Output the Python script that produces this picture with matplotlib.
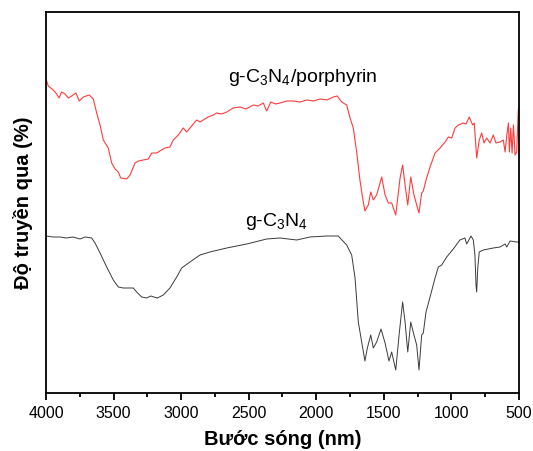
import numpy as np
import matplotlib
matplotlib.use("Agg")
import matplotlib.pyplot as plt

plt.rcParams['font.family'] = ['Liberation Sans', 'DejaVu Sans']
plt.rcParams['mathtext.fontset'] = 'custom'
plt.rcParams['mathtext.rm'] = 'Liberation Sans'
plt.rcParams['mathtext.default'] = 'regular'

# g-C3N4/porphyrin (red), wavenumber vs relative transmittance
wn_porph = [4000, 3983, 3946, 3921, 3904, 3884, 3859, 3835, 3810, 3778, 3754, 3724,
            3680, 3650, 3625, 3600, 3576, 3539, 3514, 3489, 3465, 3447, 3403, 3378,
            3341, 3317, 3280, 3243, 3218, 3181, 3157, 3120, 3083, 3058, 3021, 2984,
            2959, 2922, 2885, 2860, 2800, 2762, 2737, 2700, 2663, 2614, 2564, 2520,
            2466, 2430, 2392, 2367, 2337, 2300, 2268, 2220, 2170, 2120, 2071, 2020,
            1972, 1920, 1874, 1844, 1824, 1812, 1775, 1750, 1726, 1701, 1677, 1657,
            1640, 1615, 1597, 1578, 1553, 1516, 1491, 1467, 1442, 1412, 1380, 1361,
            1343, 1323, 1301, 1277, 1257, 1240, 1220, 1208, 1188, 1158, 1121, 1084,
            1047, 1023, 998, 973, 949, 912, 892, 868, 843, 831, 813, 794, 776, 759,
            739, 714, 690, 670, 640, 616, 603, 590, 578, 571, 561, 551, 541, 529,
            517, 505, 500]
t_porph = [314, 307, 303, 299, 295, 301, 299, 295, 297, 300, 292, 296,
           298, 294, 280, 268, 253, 245, 230, 224, 221, 215, 214, 218,
           230, 232, 233, 234, 240, 240, 242, 245, 246, 253, 258, 265,
           261, 267, 273, 271, 276, 278, 280, 279, 281, 285, 286, 284,
           288, 287, 290, 282, 291, 289, 290, 292, 292, 291, 293, 292,
           294, 293, 296, 297, 293, 291, 288, 275, 265, 241, 213, 195,
           182, 188, 201, 193, 198, 216, 198, 190, 190, 178, 215, 228,
           208, 188, 216, 198, 188, 180, 200, 202, 213, 226, 240, 245,
           251, 256, 255, 265, 268, 270, 269, 276, 268, 270, 235, 253, 260, 250,
           255, 250, 258, 250, 251, 253, 241, 258, 270, 241, 265, 240, 268, 238,
           241, 283, 285]

# g-C3N4 (black)
wn_cn = [4000, 3950, 3896, 3850, 3800, 3748, 3711, 3662, 3637, 3600, 3551, 3502,
         3465, 3428, 3390, 3354, 3329, 3292, 3255, 3225, 3201, 3176, 3132, 3083,
         3033, 2996, 2935, 2860, 2787, 2663, 2515, 2367, 2268, 2145, 2046, 1923,
         1837, 1824, 1775, 1738, 1713, 1689, 1664, 1640, 1622, 1597, 1578, 1553,
         1521, 1491, 1462, 1442, 1412, 1385, 1361, 1343, 1323, 1301, 1277, 1257,
         1240, 1220, 1208, 1188, 1158, 1121, 1097, 1072, 1035, 986, 937, 900,
         887, 855, 838, 826, 818, 813, 805, 794, 764, 690, 640, 603, 590, 566,
         517, 500]
t_cn = [157, 156, 156, 155, 156, 154, 156, 155, 150, 140, 126, 113,
        106, 105, 105, 105, 101, 96, 95, 97, 96, 95, 98, 105,
        116, 125, 131, 138, 141, 145, 149, 154, 155, 153, 156, 157,
        157, 155, 148, 138, 115, 71, 51, 32, 45, 58, 45, 51,
        64, 50, 32, 41, 23, 61, 91, 71, 41, 71, 58, 48,
        23, 58, 60, 81, 96, 115, 126, 128, 136, 144, 153, 155,
        149, 157, 153, 138, 108, 101, 125, 141, 143, 145, 146, 149, 146, 152,
        151, 151]

label_porph = r'g-C$_3$N$_4$/porphyrin'
label_cn = r'g-C$_3$N$_4$'

fig = plt.figure(figsize=(5.33, 4.51), dpi=100)
ax = fig.add_axes([0.0863, 0.1286, 0.8874, 0.8448])

ax.plot(wn_porph, t_porph, color='#ff3b3b', lw=0.8)
ax.plot(wn_cn, t_cn, color='#3a3a3a', lw=0.7)

ax.set_xlim(4000, 500)
ax.set_ylim(0, 381)
ax.set_xticks(np.arange(4000, 499, -500))
ax.set_xticks(np.arange(3750, 500, -500), minor=True)
ax.set_yticks([])
ax.tick_params(axis='x', which='major', direction='out', length=5, width=1.3,
               labelsize=11.5, pad=4)
ax.tick_params(axis='x', which='minor', direction='out', length=3, width=1.3)
for s in ax.spines.values():
    s.set_linewidth(1.3)

ax.text(0.543, 0.827, label_porph, transform=ax.transAxes, ha='center',
        va='center', fontsize=14)
ax.text(0.488, 0.449, label_cn, transform=ax.transAxes, ha='center',
        va='center', fontsize=14)

ax.set_xlabel('Bước sóng (nm)', fontsize=14.5, fontweight='bold', labelpad=7)
ax.set_ylabel('Độ truyền qua (%)', fontsize=14.5, fontweight='bold', labelpad=9)

fig.savefig('out.png', dpi=100)
